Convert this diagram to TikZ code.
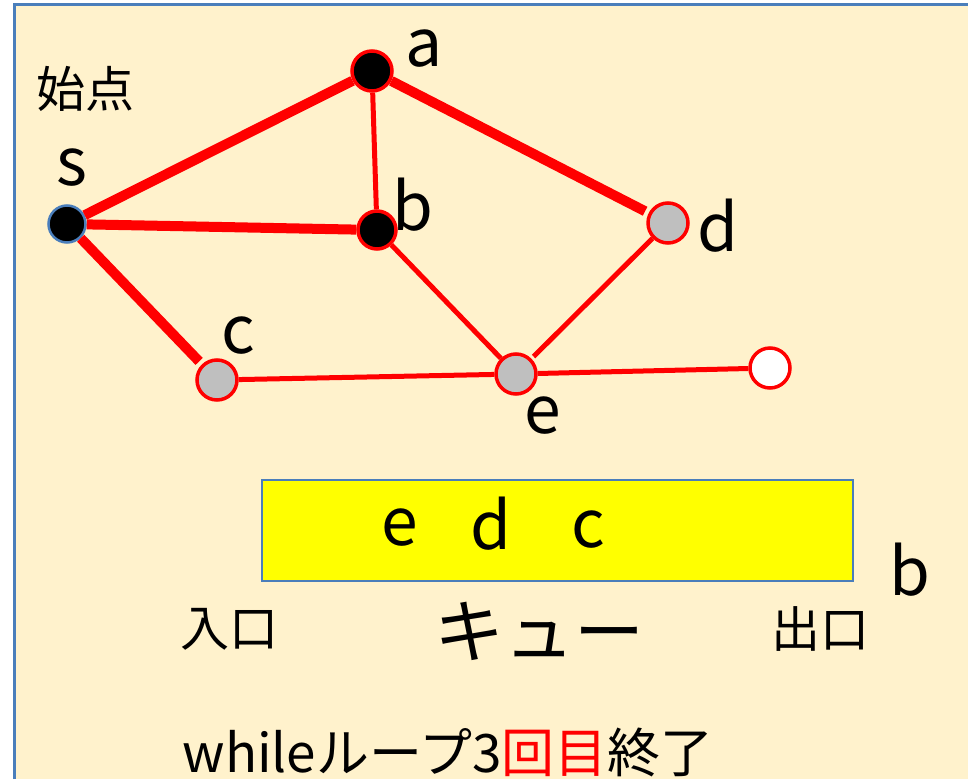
\documentclass[tikz,border=0pt]{standalone}
\usepackage{fontspec}
\setmainfont{Noto Sans CJK JP}
\usetikzlibrary{positioning}
\definecolor{paper}{HTML}{FFF2CC}
\definecolor{frameblue}{HTML}{4A7EBB}
\definecolor{nodegray}{HTML}{BFBFBF}
\definecolor{qyellow}{HTML}{FFFF00}

\begin{document}
\begin{tikzpicture}[x=1pt, y=-1pt,
    vtx/.style={circle, draw=red, line width=3.5pt, minimum size=40pt, inner sep=0pt},
    done/.style={vtx, fill=black},
    seen/.style={vtx, fill=nodegray},
    fresh/.style={vtx, fill=white},
    tree/.style={red, line width=10pt},
    link/.style={red, line width=5pt},
    lbl/.style={font=\fontsize{66}{66}\selectfont, inner sep=0pt},
    jp/.style={font=\fontsize{49}{49}\selectfont, inner sep=0pt}]

    % background and frame
    \useasboundingbox (0,0) rectangle (968,779);
    \fill[paper] (14,4) rectangle (968,779);
    \draw[frameblue, line width=3pt] (14,779) -- (14,4) -- (968,4);

    % vertices
    \node[done, draw=frameblue, line width=2.5pt, minimum size=37pt] (s) at (67,224) {};
    \node[done] (a) at (372,71) {};
    \node[done, minimum size=38pt] (b) at (377,230) {};
    \node[seen] (c) at (217,380) {};
    \node[seen] (d) at (668,223) {};
    \node[seen] (e) at (516,374) {};
    \node[fresh] (f) at (770,368) {};

    % edges of the search tree
    \draw[tree] (s) -- (a);
    \draw[tree] (s) -- (b);
    \draw[tree, shorten >=4pt] (s) -- (c);
    \draw[tree, shorten >=4pt] (a) -- (d);
    % other edges
    \draw[link] (a) -- (b);
    \draw[link] (b) -- (e);
    \draw[link, shorten <=3pt] (e) -- (d);
    \draw[link] (c) -- (e);
    \draw[link] (e) -- (f);

    % vertex labels
    \node[lbl] (la) at (424,49) {a};
    \node[lbl] (ls) at (72,168) {s};
    \node[lbl] (lb) at (413,205) {b};
    \node[lbl] (lc) at (238,336) {c};
    \node[lbl] (ld) at (718,226) {d};
    \node[lbl] (le) at (543,416) {e};
    \node[jp] (start) at (85,89) {始点};

    % queue
    \node[draw=frameblue, line width=2pt, fill=qyellow, minimum width=591pt,
          minimum height=101pt, inner sep=0pt] (queue) at (557.5,530.5) {};
    \node[lbl] (q1) at (400,528) {e};
    \node[lbl] (q2) at (491,524) {d};
    \node[lbl] (q3) at (588,530) {c};
    \node[lbl] (out) at (910,570) {b};
    \node[jp] (entry) at (229,629) {入口};
    \node[jp, font=\fontsize{70}{70}\selectfont] (qname) at (539,631) {キュー};
    \node[jp] (exit) at (820,629) {出口};

    % caption
    \node[jp, font=\fontsize{53}{53}\selectfont] (caption) at (448,752) {whileループ3\textcolor{red}{回目}終了};
\end{tikzpicture}
\end{document}
